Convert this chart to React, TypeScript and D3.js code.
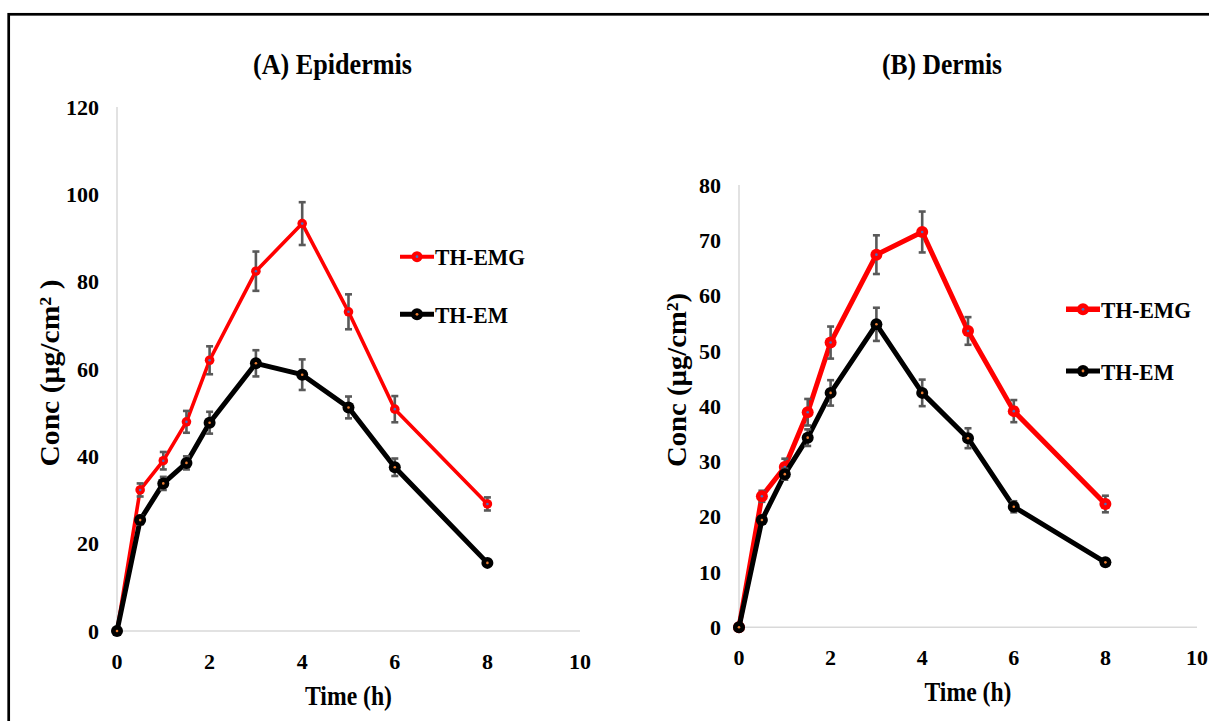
import React from "react";
import * as d3 from "d3";

const times = [0, 0.5, 1, 1.5, 2, 3, 4, 5, 6, 8];
const epiEMG = [0, 32.3, 39, 47.9, 62, 82.4, 93.3, 73.1, 50.8, 29.1];
const epiEMGErr = [0, 1.5, 2, 2.5, 3.2, 4.5, 4.9, 4, 3, 1.5];
const epiEM = [0, 25.4, 33.8, 38.5, 47.7, 61.3, 58.7, 51.2, 37.5, 15.6];
const epiEMErr = [0, 1, 1.5, 1.5, 2.5, 3, 3.5, 2.5, 2, 0.5];
const derEMG = [0, 23.7, 29, 38.9, 51.5, 67.4, 71.5, 53.6, 39.1, 22.3];
const derEMGErr = [0, 1, 1.5, 2.4, 2.9, 3.5, 3.7, 2.5, 2, 1.5];
const derEM = [0, 19.4, 27.7, 34.3, 42.4, 54.8, 42.4, 34.2, 21.8, 11.75];
const derEMErr = [0, 0.5, 1, 1.5, 2.3, 3, 2.4, 1.8, 1, 0.5];

const xTicks = [0, 2, 4, 6, 8, 10];
const yTicksA = [0, 20, 40, 60, 80, 100, 120];
const yTicksB = [0, 10, 20, 30, 40, 50, 60, 70, 80];
const seriesNames = ["TH-EMG", "TH-EM"];

const FONT = "'Times New Roman', Times, 'Liberation Serif', 'DejaVu Serif', serif";
const RED = "#ff0000";
const BLACK = "#000000";
const ERR = "#595959";
const AXIS = "#d9d9d9";

type Panel = {
  title: string;
  titleX: number;
  titleLen: number;
  yLabel: string;
  yLabelX: number;
  yLabelY: number;
  yLabelLen: number;
  x: d3.ScaleLinear<number, number>;
  y: d3.ScaleLinear<number, number>;
  yTicks: number[];
  emg: number[];
  emgErr: number[];
  em: number[];
  emErr: number[];
  emgR: number;
  emR: number;
  emgW: number;
  emW: number;
  legX: number;
  legY: number[];
  xLabelY: number;
};

const panels: Panel[] = [
  {
    title: "(A) Epidermis",
    titleX: 253,
    titleLen: 159,
    yLabel: "Conc (µg/cm² )",
    yLabelX: 59,
    yLabelY: 373,
    yLabelLen: 187,
    x: d3.scaleLinear().domain([0, 10]).range([117, 580]),
    y: d3.scaleLinear().domain([0, 120]).range([631, 107]),
    yTicks: yTicksA,
    emg: epiEMG,
    emgErr: epiEMGErr,
    em: epiEM,
    emErr: epiEMErr,
    emgR: 4.8,
    emR: 6,
    emgW: 3.6,
    emW: 5,
    legX: 400,
    legY: [256.7, 314.3],
    xLabelY: 705,
  },
  {
    title: "(B) Dermis",
    titleX: 882,
    titleLen: 120,
    yLabel: "Conc (µg/cm²)",
    yLabelX: 686,
    yLabelY: 380,
    yLabelLen: 174,
    x: d3.scaleLinear().domain([0, 10]).range([739, 1197]),
    y: d3.scaleLinear().domain([0, 80]).range([627.3, 185]),
    yTicks: yTicksB,
    emg: derEMG,
    emgErr: derEMGErr,
    em: derEM,
    emErr: derEMErr,
    emgR: 6,
    emR: 6,
    emgW: 5,
    emW: 5,
    legX: 1066,
    legY: [309.3, 371],
    xLabelY: 701,
  },
];

function Series({
  p,
  vals,
  errs,
  color,
  dot,
  r,
  w,
}: {
  p: Panel;
  vals: number[];
  errs: number[];
  color: string;
  dot: string;
  r: number;
  w: number;
}) {
  const line = d3
    .line<number>()
    .x((_, i) => p.x(times[i]))
    .y((v) => p.y(v));
  return (
    <g>
      <path d={line(vals) || ""} fill="none" stroke={color} strokeWidth={w} strokeLinejoin="round" />
      {vals.map((v, i) =>
        errs[i] > 0 ? (
          <g key={"e" + i} stroke={ERR} strokeWidth={2.6}>
            <line x1={p.x(times[i])} x2={p.x(times[i])} y1={p.y(v - errs[i])} y2={p.y(v + errs[i])} />
            <line x1={p.x(times[i]) - 3.5} x2={p.x(times[i]) + 3.5} y1={p.y(v - errs[i])} y2={p.y(v - errs[i])} />
            <line x1={p.x(times[i]) - 3.5} x2={p.x(times[i]) + 3.5} y1={p.y(v + errs[i])} y2={p.y(v + errs[i])} />
          </g>
        ) : null
      )}
      {vals.map((v, i) => (
        <g key={"m" + i}>
          <circle cx={p.x(times[i])} cy={p.y(v)} r={r} fill={color} />
          <circle cx={p.x(times[i])} cy={p.y(v)} r={1.3} fill={dot} />
        </g>
      ))}
    </g>
  );
}

function PanelView({ p }: { p: Panel }) {
  const [x0, x1] = p.x.range();
  const [y0, y1] = p.y.range();
  const legendColors = [RED, BLACK];
  const legendDots = ["#4472c4", "#ed7d31"];
  const legendW = [p.emgW + 0.5, p.emW];
  const legendR = [Math.max(p.emgR, 5.5), p.emR];
  const legendLens = [90, 73];
  return (
    <g style={{ fontFamily: FONT }}>
      <text x={p.titleX} y={74} fontWeight="bold" fontSize={29} textLength={p.titleLen} lengthAdjust="spacingAndGlyphs">
        {p.title}
      </text>
      <line x1={x0} x2={x0} y1={y0} y2={y1} stroke={AXIS} strokeWidth={1.5} />
      <line x1={x0} x2={x1} y1={y0} y2={y0} stroke={AXIS} strokeWidth={1.5} />
      {p.yTicks.map((t) => (
        <text key={"y" + t} x={x0 - 18} y={p.y(t)} dy="0.35em" textAnchor="end" fontWeight="bold" fontSize={22}>
          {t}
        </text>
      ))}
      {xTicks.map((t) => (
        <text key={"x" + t} x={p.x(t)} y={y0 + 30} dy="0.35em" textAnchor="middle" fontWeight="bold" fontSize={22}>
          {t}
        </text>
      ))}
      <text x={(x0 + x1) / 2} y={p.xLabelY} textAnchor="middle" fontWeight="bold" fontSize={28} textLength={87} lengthAdjust="spacingAndGlyphs">
        Time (h)
      </text>
      <text
        transform={`translate(${p.yLabelX},${p.yLabelY}) rotate(-90)`}
        textAnchor="middle"
        fontWeight="bold"
        fontSize={28}
        textLength={p.yLabelLen}
        lengthAdjust="spacingAndGlyphs"
      >
        {p.yLabel}
      </text>
      <Series p={p} vals={p.emg} errs={p.emgErr} color={RED} dot="#4472c4" r={p.emgR} w={p.emgW} />
      <Series p={p} vals={p.em} errs={p.emErr} color={BLACK} dot="#ed7d31" r={p.emR} w={p.emW} />
      {seriesNames.map((n, i) => (
        <g key={n}>
          <line x1={p.legX} x2={p.legX + 34} y1={p.legY[i]} y2={p.legY[i]} stroke={legendColors[i]} strokeWidth={legendW[i]} />
          <circle cx={p.legX + 17} cy={p.legY[i]} r={legendR[i]} fill={legendColors[i]} />
          <circle cx={p.legX + 17} cy={p.legY[i]} r={1.4} fill={legendDots[i]} />
          <text x={p.legX + 35} y={p.legY[i] + 8.5} fontWeight="bold" fontSize={24} textLength={legendLens[i]} lengthAdjust="spacingAndGlyphs">
            {n}
          </text>
        </g>
      ))}
    </g>
  );
}

export default function App() {
  return (
    <svg width={1209} height={721} style={{ position: "absolute", left: 0, top: 0, background: "#fff" }}>
      <rect x={0} y={0} width={1209} height={721} fill="#fff" />
      <rect x={8.7} y={14.3} width={1400} height={900} fill="none" stroke="#000" strokeWidth={2.7} />
      {panels.map((p) => (
        <PanelView key={p.title} p={p} />
      ))}
    </svg>
  );
}
